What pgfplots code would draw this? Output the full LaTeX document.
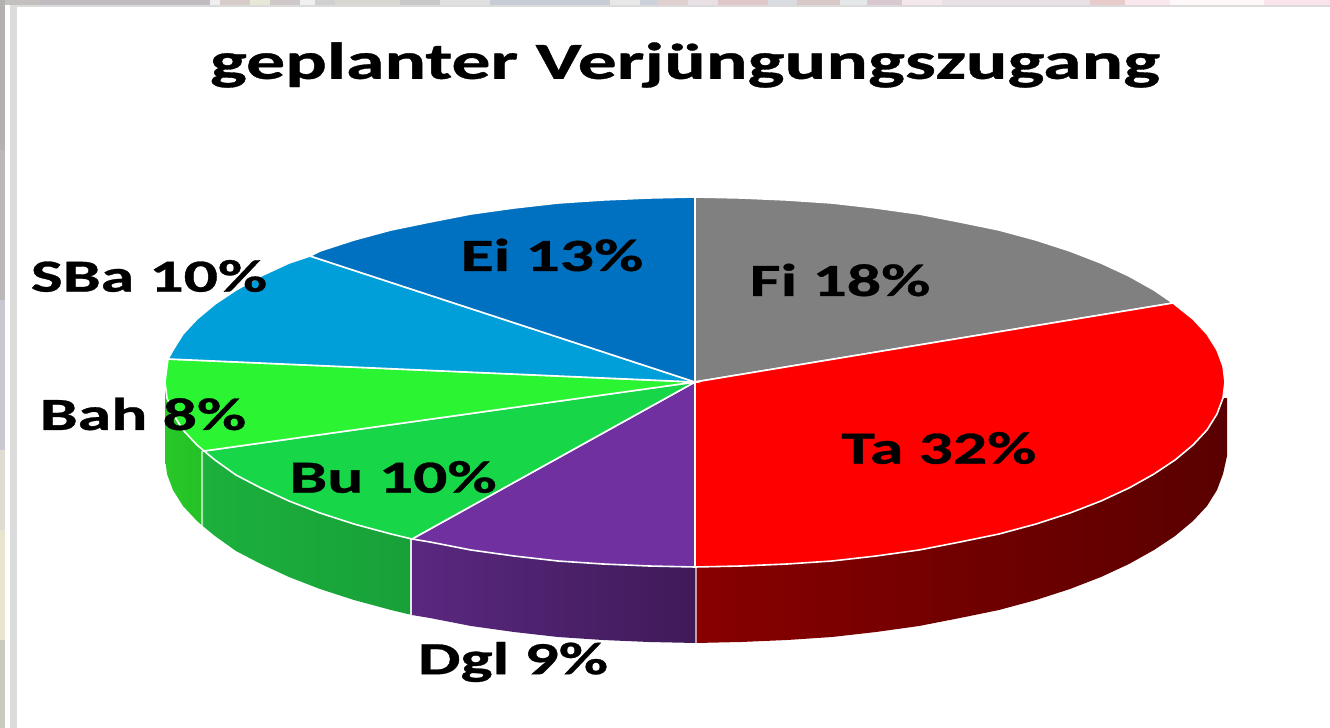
\documentclass[border=0pt]{standalone}
\usepackage{fontspec}
\setmainfont{Carlito}[BoldFeatures={FakeBold=0.6}]
\usepackage{pgfplots}
\pgfplotsset{compat=1.18}
\definecolor{cFi}{HTML}{808080}
\definecolor{cTa}{HTML}{FF0000}
\definecolor{cDgl}{HTML}{7030A0}
\definecolor{cBu}{HTML}{17D648}
\definecolor{cBah}{HTML}{2BF532}
\definecolor{cSBa}{HTML}{009FD9}
\definecolor{cEi}{HTML}{0070C0}
\definecolor{wBahL}{HTML}{28C828}
\definecolor{wBahR}{HTML}{24C028}
\definecolor{wBuL}{HTML}{1CB03C}
\definecolor{wBuR}{HTML}{18A038}
\definecolor{wDglL}{HTML}{5A2880}
\definecolor{wDglR}{HTML}{3F1A58}
\definecolor{wTaL}{HTML}{880000}
\definecolor{wTaM}{HTML}{600000}
\definecolor{wTaR}{HTML}{5A0000}
\newcommand{\lab}[1]{\scalebox{1.47}[1]{\fontsize{23}{23}\selectfont\bfseries #1}}
\newcommand{\seg}[3]{\xglobal\definecolor{s#3}{HTML}{#3}\addplot[fill=s#3,draw=none] coordinates {(#1,0)(#2,0)(#2,5)(#1,5)} --cycle;}
\newcommand{\vseg}[3]{\xglobal\definecolor{s#3}{HTML}{#3}\addplot[fill=s#3,draw=none] coordinates {(0,#1)(5,#1)(5,#2)(0,#2)} --cycle;}
\begin{document}
\begin{tikzpicture}
\begin{axis}[
  width=665pt,height=364pt,scale only axis,
  xmin=0,xmax=1330,ymin=0,ymax=728,y dir=reverse,
  hide axis,clip=true]
% background strips
\addplot[fill=white,draw=none] coordinates {(0,0)(1330,0)(1330,728)(0,728)} --cycle;
\seg{0}{40}{C4C0C0}\seg{40}{210}{C0BCC0}\seg{210}{220}{EEEEEE}\seg{220}{250}{D8CCC8}\seg{250}{270}{E8E8D8}
\seg{270}{300}{CFC8C8}\seg{300}{315}{F0F0F0}\seg{315}{335}{D0D0D0}\seg{335}{400}{D8D8D0}\seg{400}{440}{C8C8C8}
\seg{440}{490}{E0E0E0}\seg{490}{610}{C8CCD4}\seg{610}{640}{E8E8E8}\seg{640}{657}{CCD0D8}\seg{657}{688}{E0D0D0}
\seg{688}{718}{E8E0E4}\seg{718}{768}{E0C8C8}\seg{768}{797}{D8DCE0}\seg{797}{840}{D8C8C8}\seg{840}{867}{E4E8E8}
\seg{867}{902}{D8C8D0}\seg{902}{942}{F4E8EC}\seg{942}{1090}{E8E0E4}\seg{1090}{1125}{E8CCCC}\seg{1125}{1170}{FAE8EE}
\seg{1170}{1264}{FFF8F8}\seg{1264}{1330}{F8E4EA}
\vseg{0}{150}{B4B0B0}\vseg{150}{300}{BCB8B8}\vseg{300}{450}{C8C8D0}\vseg{450}{530}{E0DCD4}\vseg{530}{640}{E8E4D0}\vseg{640}{728}{C8CCC0}
\addplot[fill=black!14,draw=none] coordinates {(10,5)(17,5)(17,728)(10,728)} --cycle;
\addplot[fill=black!14,draw=none] coordinates {(10,5)(1330,5)(1330,7)(10,7)} --cycle;
% side walls
\addplot[left color=wBahL,right color=wBahR,draw=none] coordinates {
(165,382)(167,398)(173,414)(183,430)(197,445)(204,451)(204,527)(197,521)(183,506)(173,490)(167,474)(165,458)} --cycle;
\addplot[left color=wBuL,right color=wBuR,draw=none] coordinates {
(204,451)(215,460)(236,475)(261,488)(289,501)(320,513)(354,524)(391,534)(412,539)(412,615)(391,610)(354,600)(320,589)(289,577)(261,564)(236,551)(215,536)(204,527)} --cycle;
\addplot[left color=wDglL,right color=wDglR,draw=none] coordinates {
(412,539)(430,542)(471,550)(514,556)(558,561)(603,564)(649,566)(696,567)(696,643)(649,642)(603,640)(558,637)(514,632)(471,626)(430,618)(412,615)} --cycle;
\addplot[left color=wTaL,middle color=wTaM,right color=wTaR,draw=none] coordinates {
(696,567)(741,566)(787,564)(832,561)(876,556)(919,550)(960,542)(999,534)(1036,524)(1070,513)(1101,501)(1129,488)(1154,474)(1175,460)(1193,445)(1207,430)(1217,414)(1223,398)(1227,398)(1227,456)(1223,474)(1217,490)(1207,506)(1193,521)(1175,536)(1154,550)(1129,564)(1101,577)(1070,589)(1036,600)(999,610)(960,618)(919,626)(876,632)(832,637)(787,640)(741,642)(696,643)} --cycle;
% wall edges
\addplot[draw=white,line width=1.2pt,opacity=.6] coordinates {(202,451)(202,527)};
\addplot[draw=white,line width=1pt,opacity=.85] coordinates {(411,539)(411,615)};
\addplot[draw=white,line width=1.2pt,opacity=.6] coordinates {(696,567)(696,643)};
% top slices
\addplot[fill=cFi,draw=white,line width=.8pt] coordinates {
(695,382)(695,197)(741,198)(787,200)(832,203)(876,208)(919,214)(960,222)(999,230)(1036,240)(1070,251)(1101,263)(1129,276)(1154,290)(1173,303)} --cycle;
\addplot[fill=cTa,draw=white,line width=.8pt] coordinates {
(695,382)(1173,303)(1193,319)(1207,334)(1217,350)(1223,366)(1225,382)(1223,398)(1217,414)(1207,430)(1193,445)(1175,460)(1154,474)(1129,488)(1101,501)(1070,513)(1036,524)(999,534)(960,542)(919,550)(876,556)(832,561)(787,564)(741,566)(695,567)} --cycle;
\addplot[fill=cDgl,draw=white,line width=.8pt] coordinates {
(695,382)(695,567)(649,566)(603,564)(558,561)(514,556)(471,550)(430,542)(412,539)} --cycle;
\addplot[fill=cBu,draw=white,line width=.8pt] coordinates {
(695,382)(412,539)(391,534)(354,524)(320,513)(289,501)(261,488)(236,475)(215,460)(204,451)} --cycle;
\addplot[fill=cBah,draw=white,line width=.8pt] coordinates {
(695,382)(204,451)(197,445)(183,430)(173,414)(167,398)(165,382)(168,359)} --cycle;
\addplot[fill=cSBa,draw=white,line width=.8pt] coordinates {
(695,382)(168,359)(173,350)(183,334)(197,319)(215,304)(236,290)(261,276)(289,263)(310,256)} --cycle;
\addplot[fill=cEi,draw=white,line width=.8pt] coordinates {
(695,382)(310,256)(320,251)(354,240)(391,230)(430,222)(471,214)(514,208)(558,203)(603,200)(649,198)(695,197)} --cycle;
% labels
\node[inner sep=0pt] at (axis cs:685,65) {\scalebox{1.495}[1]{\fontsize{26}{26}\selectfont\bfseries geplanter Verjüngungszugang}};
\node[inner sep=0pt] at (axis cs:840,280) {\lab{Fi 18\%}};
\node[inner sep=0pt] at (axis cs:552,255) {\lab{Ei 13\%}};
\node[inner sep=0pt] at (axis cs:149,276) {\lab{SBa 10\%}};
\node[inner sep=0pt] at (axis cs:143,414) {\lab{Bah 8\%}};
\node[inner sep=0pt] at (axis cs:393,477) {\lab{Bu 10\%}};
\node[inner sep=0pt] at (axis cs:939,448) {\lab{Ta 32\%}};
\node[inner sep=0pt] at (axis cs:513,662) {\lab{Dgl 9\%}};
\end{axis}
\end{tikzpicture}
\end{document}
